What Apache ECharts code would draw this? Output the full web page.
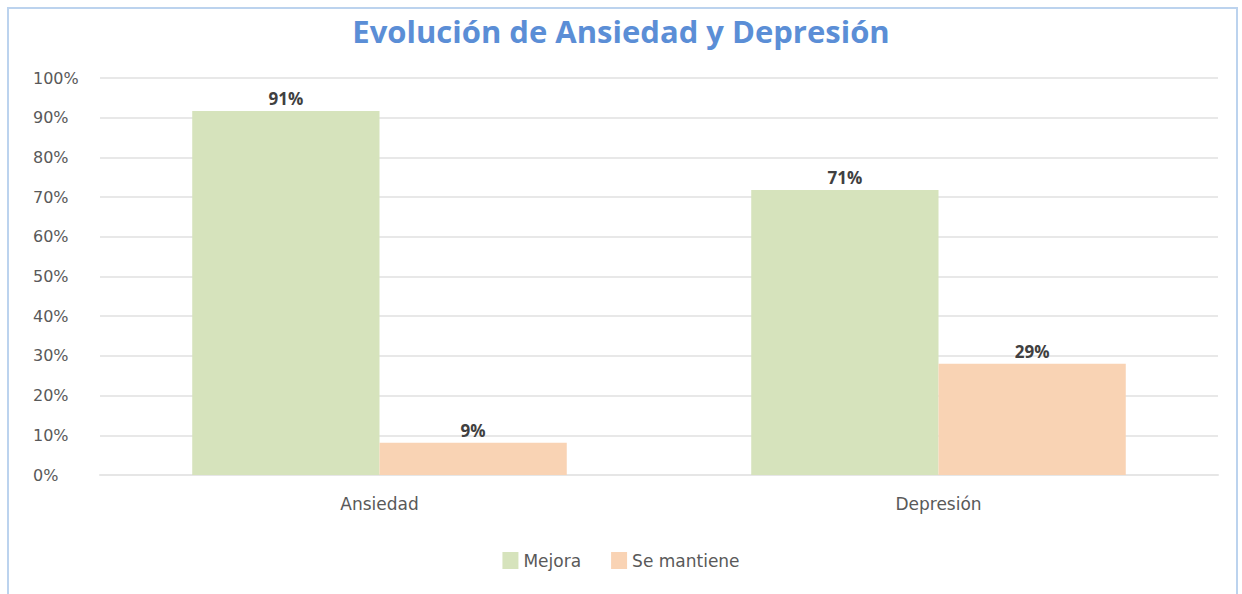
<!DOCTYPE html>
<html>
<head>
<meta charset="utf-8">
<script src="https://cdn.jsdelivr.net/npm/echarts@6/dist/echarts.min.js"></script>
<style>
    html, body { margin: 0; padding: 0; background: #fff; }
    #frame {
        position: absolute; left: 7px; top: 7px; width: 1231px; height: 600px;
        border: 2px solid #bcd3ee; border-bottom: none; box-sizing: border-box;
    }
    #chart { position: absolute; left: 0; top: 0; width: 1242px; height: 594px; }
</style>
</head>
<body>
<div id="frame"></div>
<div id="chart"></div>
<script>
// categories and series values (percent)
const categories = ['Ansiedad', 'Depresión'];
const mejora = [91.7, 71.8];
const mejoraLabels = ['91%', '71%'];
const seMantiene = [8.1, 28.0];
const seMantieneLabels = ['9%', '29%'];

const labelFont = 'DejaVu Sans';

const chart = echarts.init(document.getElementById('chart'), null, { renderer: 'svg' });
const option = {
    animation: false,
    textStyle: { fontFamily: labelFont },
    title: {
        text: 'Evolución de Ansiedad y Depresión',
        left: 'center',
        top: 10,
        textStyle: { color: '#5b8ed6', fontSize: 31, fontWeight: 'bold', fontFamily: 'Open Sans' }
    },
    legend: {
        bottom: 20,
        left: 'center',
        itemWidth: 16,
        itemHeight: 17,
        itemGap: 30,
        icon: 'rect',
        textStyle: { color: '#595959', fontSize: 17, fontFamily: labelFont }
    },
    grid: { left: 100, right: 24, top: 78, bottom: 119 },
    xAxis: {
        type: 'category',
        data: categories,
        axisLine: { lineStyle: { color: '#e6e6e6', width: 2 } },
        axisTick: { show: false },
        axisLabel: { color: '#595959', fontSize: 17, margin: 20 }
    },
    yAxis: {
        type: 'value',
        min: 0,
        max: 100,
        interval: 10,
        axisLabel: { color: '#595959', fontSize: 16, formatter: '{value}%', margin: 67, align: 'left' },
        splitLine: { lineStyle: { color: '#e8e8e8', width: 2 } },
        axisLine: { show: false },
        axisTick: { show: false }
    },
    series: [
        {
            name: 'Mejora',
            type: 'bar',
            data: mejora,
            barGap: '0%',
            barCategoryGap: '33%',
            itemStyle: { color: '#d6e3bc' },
            label: {
                show: true, position: 'top', distance: 4,
                color: '#404040', fontSize: 17, fontWeight: 'bold', fontFamily: 'Open Sans',
                formatter: p => mejoraLabels[p.dataIndex]
            }
        },
        {
            name: 'Se mantiene',
            type: 'bar',
            data: seMantiene,
            itemStyle: { color: '#f9d3b4' },
            label: {
                show: true, position: 'top', distance: 4,
                color: '#404040', fontSize: 17, fontWeight: 'bold', fontFamily: 'Open Sans',
                formatter: p => seMantieneLabels[p.dataIndex]
            }
        }
    ]
};
chart.setOption(option);
</script>
</body>
</html>
